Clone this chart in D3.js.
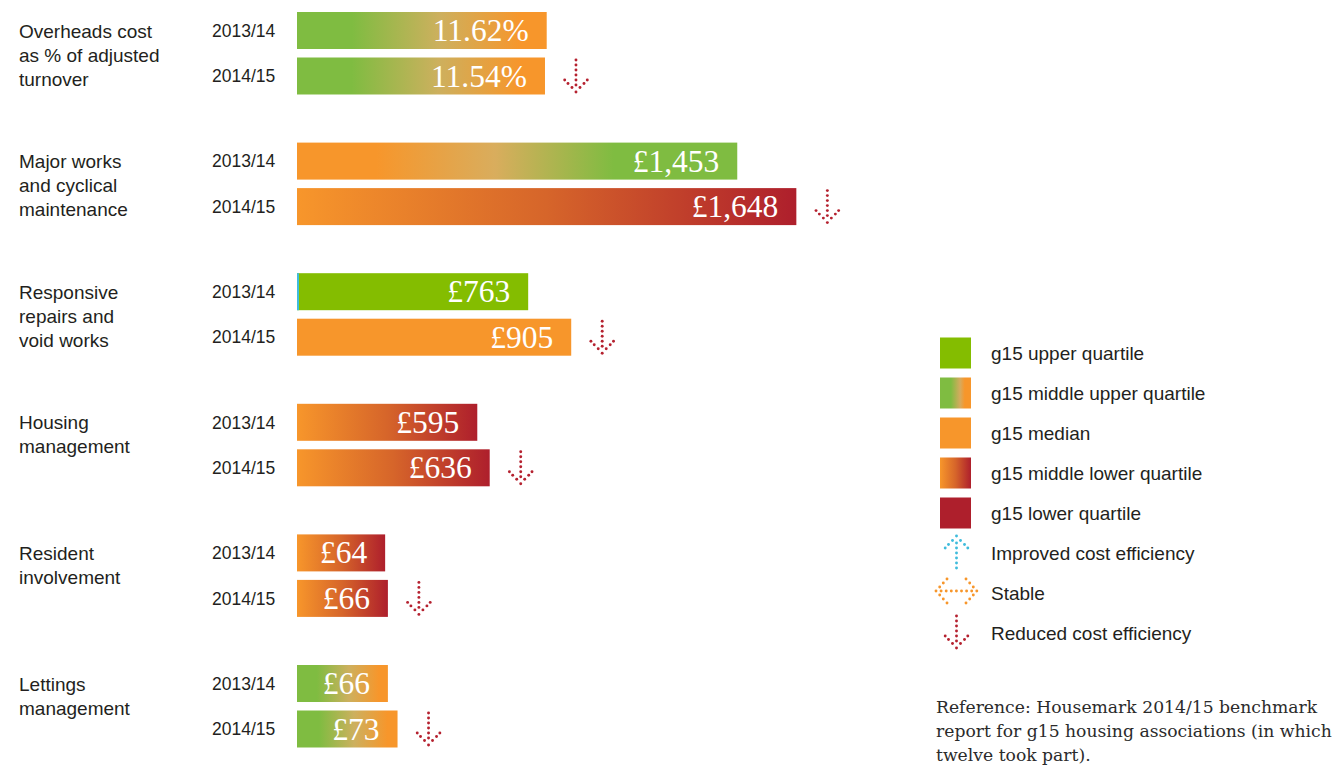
<!DOCTYPE html>
<html>
<head>
<meta charset="utf-8">
<script src="https://cdn.jsdelivr.net/npm/d3@7"></script>
<style>
  body { margin: 0; background: #fff; }
  svg { display: block; }
</style>
</head>
<body>
<svg id="chart"></svg>
<script>
// chart values read from the benchmark graphic
const categoryLines = [
    ["Overheads cost", "as % of adjusted", "turnover"],
    ["Major works", "and cyclical", "maintenance"],
    ["Responsive", "repairs and", "void works"],
    ["Housing", "management"],
    ["Resident", "involvement"],
    ["Lettings", "management"]
];
const years = ["2013/14", "2014/15"];
const values2013 = [11.62, 1453, 763, 595, 64, 66];
const values2014 = [11.54, 1648, 905, 636, 66, 73];
const quartile2013 = ["middleUpper", "middleUpperRev", "upper", "middleLower", "middleLower", "middleUpper"];
const quartile2014 = ["middleUpper", "middleLower", "median", "middleLower", "middleLower", "middleUpper"];
const trend = ["reduced", "reduced", "reduced", "reduced", "reduced", "reduced"];
const valueUnits = ["pct", "gbp", "gbp", "gbp", "gbp", "gbp"];
const scaleGroups = ["pct", "large", "large", "large", "small", "small"];
const scaleMax = { pct: 28.2, large: 2000, small: 440 };

const legendKeys = ["upper", "middleUpperLegend", "median", "middleLowerLegend", "lower", "improved", "stable", "reduced"];
const legendLabels = ["g15 upper quartile", "g15 middle upper quartile", "g15 median", "g15 middle lower quartile",
    "g15 lower quartile", "Improved cost efficiency", "Stable", "Reduced cost efficiency"];
const noteLines = ["Reference: Housemark 2014/15 benchmark", "report for g15 housing associations (in which", "twelve took part)."];

const width = 1338, height = 767;
const green = "#84bd00", softGreen = "#7fbc41", orange = "#f7962b", red = "#ae1f2c", cyan = "#3fbcdc";
const textColor = "#231f20";
const sans = "'Liberation Sans', Arial, sans-serif";

const svg = d3.select("#chart").attr("width", width).attr("height", height);
const defs = svg.append("defs");

function gradient (id, stops) {
    const g = defs.append("linearGradient").attr("id", id).attr("x1", 0).attr("x2", 1).attr("y1", 0).attr("y2", 0);
    stops.forEach(s => g.append("stop").attr("offset", s[0]).attr("stop-color", s[1]));
}
gradient("middleUpper", [[0, softGreen], [0.22, softGreen], [0.57, "#cdb05e"], [0.9, orange], [1, orange]]);
gradient("middleUpperRev", [[0, orange], [0.18, orange], [0.45, "#d9ad5d"], [0.72, softGreen], [1, softGreen]]);
gradient("middleLower", [[0, orange], [0.5, "#d6652a"], [1, red]]);
gradient("middleUpperLegend", [[0, softGreen], [0.35, softGreen], [0.65, "#d6aa5e"], [0.8, orange], [1, orange]]);
gradient("middleLowerLegend", [[0, orange], [0.5, "#d6652a"], [1, red]]);

const fills = {
    upper: green, median: orange, lower: red,
    middleUpper: "url(#middleUpper)", middleUpperRev: "url(#middleUpperRev)", middleLower: "url(#middleLower)",
    middleUpperLegend: "url(#middleUpperLegend)", middleLowerLegend: "url(#middleLowerLegend)"
};
const arrowColors = { improved: cyan, stable: orange, reduced: "#b5212f" };

// scales
const groupY = d3.scaleLinear().domain([0, categoryLines.length - 1]).range([12, 665]);
const yearY = d3.scaleBand().domain(years).range([0, 82.5]).paddingInner(8.5 / 45.5);
const xScales = {};
Object.keys(scaleMax).forEach(k => {
    xScales[k] = d3.scaleLinear().domain([0, scaleMax[k]]).range([297, 903]);
});
const fmtPct = d3.format(".2f"), fmtGbp = d3.format(",");
const valueText = (v, unit) => unit === "pct" ? fmtPct(v) + "%" : "£" + fmtGbp(v);

// dotted arrows
function arrowDots (kind) {
    if (kind === "stable") {
        const pts = d3.range(0, 41, 5.1).map(x => [x - 20.5, 0]);
        [[3.7, 4], [7.3, 8], [11, 12]].forEach(([dx, dy]) => {
            pts.push([-20.5 + dx, dy], [-20.5 + dx, -dy], [20.5 - dx, dy], [20.5 - dx, -dy]);
        });
        return pts;
    }
    const down = [[0, 0], [0, 5], [0, 10], [0, 15], [0, 20], [0, 25], [0, 32],
        [-11.3, 20], [-8, 23.5], [-4, 27.5], [11.3, 20], [8, 23.5], [4, 27.5]];
    return kind === "reduced" ? down.map(d => [d[0], d[1] - 16]) : down.map(d => [d[0], 16 - d[1]]);
}
function drawArrow (g, cx, cy, kind) {
    g.append("g")
        .attr("transform", `translate(${cx},${cy})`)
        .selectAll("circle")
        .data(arrowDots(kind))
        .join("circle")
        .attr("cx", d => d[0])
        .attr("cy", d => d[1])
        .attr("r", 1.45)
        .attr("fill", arrowColors[kind]);
}

// rows
const rows = categoryLines.map((lines, i) => ({
    lines, i,
    bars: [
        { year: years[0], value: values2013[i], quartile: quartile2013[i] },
        { year: years[1], value: values2014[i], quartile: quartile2014[i] }
    ]
}));

const groups = svg.selectAll(".group")
    .data(rows)
    .join("g")
    .attr("class", "group")
    .attr("transform", d => `translate(0,${groupY(d.i)})`);

groups.each(function (row) {
    const g = d3.select(this);
    const x = xScales[scaleGroups[row.i]];
    const bh = yearY.bandwidth();

    g.selectAll(".cat")
        .data(row.lines)
        .join("text")
        .attr("class", "cat")
        .attr("x", 19)
        .attr("y", (d, j) => bh / 2 + 7 + j * 24)
        .attr("font-family", sans)
        .attr("font-size", 19)
        .attr("fill", textColor)
        .text(d => d);

    row.bars.forEach((b, j) => {
        const top = yearY(b.year);
        const mid = top + bh / 2;
        g.append("text")
            .attr("x", 212)
            .attr("y", mid + 6.3)
            .attr("font-family", sans)
            .attr("font-size", 17.5)
            .attr("fill", textColor)
            .text(b.year);

        g.append("rect")
            .attr("x", x(0))
            .attr("y", top)
            .attr("width", x(b.value) - x(0))
            .attr("height", bh)
            .attr("fill", fills[b.quartile]);

        if (b.quartile === "upper") {
            g.append("rect")
                .attr("x", x(0))
                .attr("y", top)
                .attr("width", 2)
                .attr("height", bh)
                .attr("fill", cyan);
        }

        g.append("text")
            .attr("x", x(b.value) - 18)
            .attr("y", mid + 10.5)
            .attr("text-anchor", "end")
            .attr("font-family", "'Liberation Serif', 'Times New Roman', serif")
            .attr("font-size", 31.5)
            .attr("fill", "#fff")
            .text(valueText(b.value, valueUnits[row.i]));

        if (j === 1) drawArrow(g, x(b.value) + 31, mid, trend[row.i]);
    });
});

// legend
const legendY = d3.scalePoint().domain(d3.range(legendKeys.length)).range([353, 633]);
const legend = svg.append("g");
legendKeys.forEach((key, i) => {
    const cy = legendY(i);
    if (fills[key]) {
        legend.append("rect")
            .attr("x", 940).attr("y", cy - 15.5)
            .attr("width", 31).attr("height", 31)
            .attr("fill", fills[key]);
    } else {
        drawArrow(legend, 956.5, key === "stable" ? cy - 2 : cy - 1, key);
    }
    legend.append("text")
        .attr("x", 991)
        .attr("y", cy + 6.5)
        .attr("font-family", sans)
        .attr("font-size", 19)
        .attr("fill", textColor)
        .text(legendLabels[i]);
});

// source note
svg.append("g").selectAll("text")
    .data(noteLines)
    .join("text")
    .attr("x", 936)
    .attr("y", (d, i) => 713 + i * 24)
    .attr("font-family", "'DejaVu Serif', Georgia, serif")
    .attr("font-size", 17.2)
    .attr("fill", "#2b2b2b")
    .text(d => d);
</script>
</body>
</html>
